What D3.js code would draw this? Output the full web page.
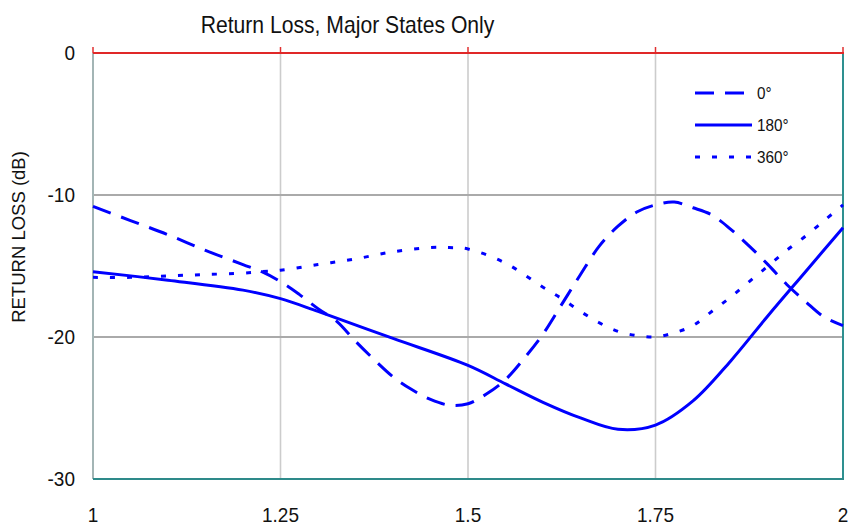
<!DOCTYPE html>
<html>
<head>
<meta charset="utf-8">
<script src="https://cdn.jsdelivr.net/npm/d3@7"></script>
<style>
  html, body { margin: 0; padding: 0; background: #fff; }
  svg { display: block; font-family: "Liberation Sans", Arial, sans-serif; }
</style>
</head>
<body>
<svg id="chart" width="849" height="527"></svg>
<script>
// ---------- data ----------
const title = "Return Loss, Major States Only";
const yAxisTitle = "RETURN LOSS (dB)";
const xTicks = [1, 1.25, 1.5, 1.75, 2];
const xTickLabels = ["1", "1.25", "1.5", "1.75", "2"];
const yTicks = [0, -10, -20, -30];
const yTickLabels = ["0", "-10", "-20", "-30"];
const seriesNames = ["0°", "180°", "360°"];

const x0 = [1.00, 1.05, 1.10, 1.15, 1.20, 1.225, 1.25, 1.275, 1.30, 1.325, 1.35, 1.375, 1.40, 1.425, 1.45, 1.475, 1.50, 1.525, 1.55, 1.575, 1.60, 1.625, 1.65, 1.675, 1.70, 1.725, 1.75, 1.775, 1.80, 1.825, 1.85, 1.875, 1.90, 1.925, 1.95, 1.975, 2.00];
const y0 = [-10.8, -11.8, -12.8, -13.9, -14.9, -15.4, -16.1, -17.0, -18.0, -18.9, -20.3, -21.6, -22.8, -23.7, -24.4, -24.8, -24.7, -24.0, -23.0, -21.5, -19.8, -17.7, -15.6, -13.6, -12.2, -11.2, -10.7, -10.5, -10.9, -11.4, -12.4, -13.6, -14.9, -16.3, -17.5, -18.6, -19.2];

const x180 = [1.00, 1.10, 1.20, 1.25, 1.30, 1.40, 1.50, 1.55, 1.60, 1.65, 1.70, 1.75, 1.80, 1.85, 1.90, 1.95, 2.00];
const y180 = [-15.4, -16.0, -16.7, -17.3, -18.2, -20.1, -22.0, -23.3, -24.6, -25.7, -26.5, -26.2, -24.5, -21.7, -18.5, -15.4, -12.3];

const x360 = [1.00, 1.05, 1.10, 1.15, 1.20, 1.225, 1.25, 1.30, 1.35, 1.40, 1.45, 1.475, 1.50, 1.55, 1.60, 1.625, 1.65, 1.675, 1.70, 1.725, 1.75, 1.775, 1.80, 1.825, 1.85, 1.875, 1.90, 1.925, 1.95, 1.975, 2.00];
const y360 = [-15.8, -15.8, -15.7, -15.6, -15.5, -15.4, -15.3, -14.9, -14.5, -14.0, -13.7, -13.7, -13.8, -14.8, -16.5, -17.3, -18.2, -19.0, -19.6, -19.9, -20.0, -19.7, -19.2, -18.2, -17.2, -16.1, -15.0, -13.9, -12.9, -11.8, -10.7];

// ---------- layout ----------
const svg = d3.select("#chart");
const L = 93, R = 843, T = 53, B = 479;
const x = d3.scaleLinear().domain([1, 2]).range([L, R]);
const y = d3.scaleLinear().domain([-30, 0]).range([B, T]);

const series = [
  { name: seriesNames[0], xs: x0, ys: y0, dash: "19,11" },
  { name: seriesNames[1], xs: x180, ys: y180, dash: null },
  { name: seriesNames[2], xs: x360, ys: y360, dash: "5,12" }
];

// gridlines
svg.append("g").selectAll("line.v").data(xTicks.slice(1, -1)).join("line")
  .attr("x1", d => x(d)).attr("x2", d => x(d)).attr("y1", T).attr("y2", B)
  .attr("stroke", "#cccccc").attr("stroke-width", 1.6);
svg.append("g").selectAll("line.h").data(yTicks.slice(1, -1)).join("line")
  .attr("x1", L).attr("x2", R).attr("y1", d => y(d)).attr("y2", d => y(d))
  .attr("stroke", "#aaaaaa").attr("stroke-width", 2);

// small red ticks above top
svg.append("g").selectAll("line").data(xTicks).join("line")
  .attr("x1", d => x(d)).attr("x2", d => x(d)).attr("y1", T - 6).attr("y2", T)
  .attr("stroke", "#e03030").attr("stroke-width", 1.5);

// frame
svg.append("line").attr("x1", L).attr("x2", L).attr("y1", T).attr("y2", B)
  .attr("stroke", "#a3b5b5").attr("stroke-width", 2);
svg.append("line").attr("x1", R).attr("x2", R).attr("y1", T).attr("y2", B)
  .attr("stroke", "#2e9090").attr("stroke-width", 2);
svg.append("line").attr("x1", L).attr("x2", R + 1).attr("y1", B).attr("y2", B)
  .attr("stroke", "#2e8a8a").attr("stroke-width", 2);
svg.append("line").attr("x1", L).attr("x2", R + 1).attr("y1", T).attr("y2", T)
  .attr("stroke", "#e02828").attr("stroke-width", 2);

// series
const line = d3.line().curve(d3.curveCatmullRom.alpha(0.5)).x(d => x(d[0])).y(d => y(d[1]));
series.forEach(s => {
  const pts = s.xs.map((v, i) => [v, s.ys[i]]);
  svg.append("path").datum(pts).attr("d", line)
    .attr("fill", "none").attr("stroke", "#0000ff").attr("stroke-width", 3)
    .attr("stroke-dasharray", s.dash);
});

// text helper (source text looks slightly condensed)
function txt(str, tx, ty, size, anchor, sx) {
  return svg.append("text")
    .attr("transform", `translate(${tx},${ty}) scale(${sx},1)`)
    .attr("text-anchor", anchor).attr("font-size", size).attr("fill", "#111")
    .text(str);
}

// title
txt(title, 347.5, 33, 23, "middle", 0.92);

// y tick labels
yTicks.forEach((t, i) => txt(yTickLabels[i], 75, y(t) + 7, 20, "end", 0.95));
// x tick labels
xTicks.forEach((t, i) => txt(xTickLabels[i], x(t), 522, 20, "middle", 0.95));

// y axis title
svg.append("text")
  .attr("transform", `translate(25,${237}) rotate(-90)`)
  .attr("text-anchor", "middle").attr("font-size", 18.5).attr("fill", "#111")
  .text(yAxisTitle);

// legend
const legY = [93, 125, 157];
series.forEach((s, i) => {
  svg.append("line").attr("x1", 695).attr("x2", 752).attr("y1", legY[i]).attr("y2", legY[i])
    .attr("stroke", "#0000ff").attr("stroke-width", 3).attr("stroke-dasharray", s.dash);
  txt(s.name, 757, legY[i] + 6, 17, "start", 0.9);
});
</script>
</body>
</html>
